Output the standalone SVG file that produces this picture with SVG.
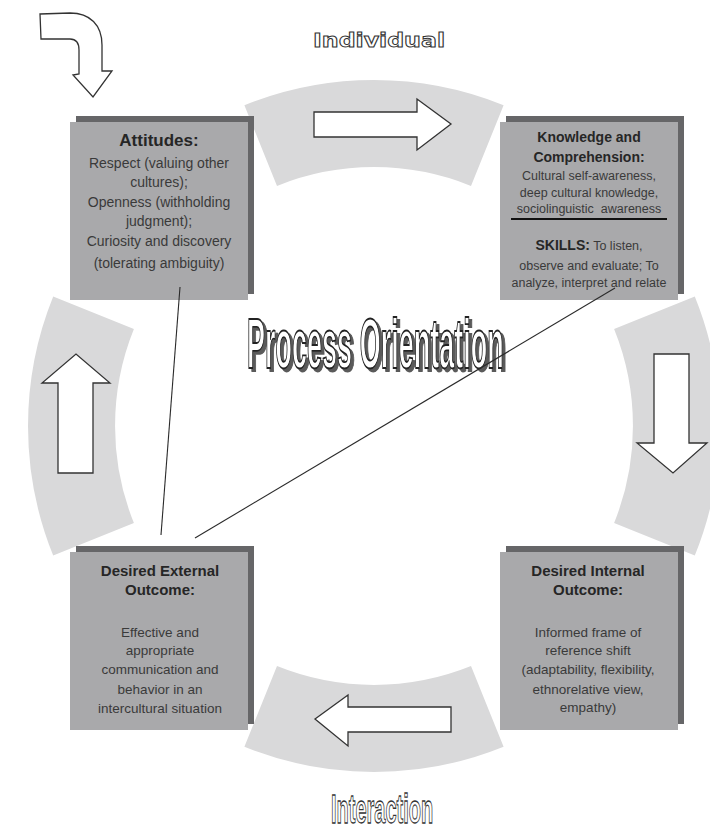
<svg xmlns="http://www.w3.org/2000/svg" width="710" height="832" viewBox="0 0 710 832">
<style>
.ring{fill:#d9d9da;stroke:none}
.arrow{fill:#ffffff;stroke:#333333;stroke-width:1.3;stroke-linejoin:miter}
.shadow{fill:#666668}
.box{fill:#a9a9ab}
.title{font-family:"Liberation Sans",Arial,sans-serif;font-weight:bold;fill:#262626;text-anchor:middle}
.body{font-family:"Liberation Sans",Arial,sans-serif;fill:#3a3a3a;text-anchor:middle}
.conn{stroke:#2a2a2a;stroke-width:1.1;fill:none}
.outline{fill:#ffffff;stroke:#333333;stroke-width:1;font-weight:bold}
</style>
<defs>
<filter id="ds" x="-5%" y="-20%" width="110%" height="140%">
<feOffset in="SourceAlpha" dx="7" dy="3" result="o"/>
<feFlood flood-color="#5a5a5a"/>
<feComposite in2="o" operator="in" result="s"/>
<feMerge><feMergeNode in="s"/><feMergeNode in="SourceGraphic"/></feMerge>
</filter>
</defs>
<rect width="710" height="832" fill="#ffffff"/>

<g id="ring">
<path class="ring" d="M244.4,105.2 A346,346 0 0 1 503.6,105.2 L471,185.9 A259,259 0 0 0 277,185.9 Z"/>
<path class="ring" d="M694.8,296.4 A346,346 0 0 1 694.8,555.6 L614.1,523 A259,259 0 0 0 614.1,329 Z"/>
<path class="ring" d="M277,666.1 A259,259 0 0 0 471,666.1 L503.6,746.8 A346,346 0 0 1 244.4,746.8 Z"/>
<path class="ring" d="M53.2,296.4 L133.9,329 A259,259 0 0 0 133.9,523 L53.2,555.6 A346,346 0 0 1 53.2,296.4 Z"/>
</g>

<g id="arrows">
<path class="arrow" d="M314,112 L417,112 L417,99 L451,124 L417,150 L417,137 L314,137 Z"/>
<path class="arrow" d="M654,354 L689,354 L689,443 L707,443 L673,473 L637,443 L654,443 Z"/>
<path class="arrow" d="M451,707 L348,707 L348,695 L315,719 L348,746 L348,732 L451,732 Z"/>
<path class="arrow" d="M58,473 L58,383 L42,383 L76,354 L110,383 L93,383 L93,473 Z"/>
<path class="arrow" d="M40,14 L70,13 C90,13 102,25 102,45 L102,71 L112,71 L93,97 L73,75 L79,74 L79,50 C79,43 76,39 70,39 L41,39 Z"/>
</g>

<g id="label-individual">
<text class="outline" x="313" y="47" font-family="'DejaVu Sans',sans-serif" font-size="20" textLength="132" lengthAdjust="spacingAndGlyphs">Individual</text>
</g>

<g id="label-interaction" transform="translate(331,823) scale(0.5,1)">
<text class="outline" x="0" y="0" font-family="'Liberation Sans',Arial,sans-serif" font-size="40" vector-effect="non-scaling-stroke">Interaction</text>
</g>

<g id="label-process" transform="translate(247,368) scale(0.386,1)">
<text x="0" y="0" font-family="'Liberation Sans',Arial,sans-serif" font-weight="bold" font-size="70" fill="#ffffff" stroke="#222222" stroke-width="1.4" vector-effect="non-scaling-stroke" filter="url(#ds)">Process Orientation</text>
</g>

<g id="attitudes">
<rect class="shadow" x="76" y="116" width="178" height="178"/>
<rect class="box" x="70" y="122" width="178" height="178"/>
<text class="title" x="159" y="146" font-size="17">Attitudes:</text>
<text class="body" x="159" y="168" font-size="14">Respect (valuing other</text>
<text class="body" x="159" y="187" font-size="14">cultures);</text>
<text class="body" x="159" y="207" font-size="14">Openness (withholding</text>
<text class="body" x="159" y="226" font-size="14">judgment);</text>
<text class="body" x="159" y="246" font-size="14">Curiosity and discovery</text>
<text class="body" x="159" y="268" font-size="14">(tolerating ambiguity)</text>
</g>

<g id="knowledge">
<rect class="shadow" x="506" y="116" width="178" height="178"/>
<rect class="box" x="500" y="122" width="178" height="178"/>
<text class="title" x="589" y="142" font-size="14">Knowledge and</text>
<text class="title" x="589" y="162" font-size="14">Comprehension:</text>
<text class="body" x="589" y="180" font-size="12.5">Cultural self-awareness,</text>
<text class="body" x="589" y="197" font-size="12.5">deep cultural knowledge,</text>
<text class="body" x="589" y="213" font-size="12.5" style="white-space:pre">sociolinguistic  awareness</text>
<line x1="511" y1="219" x2="667" y2="219" stroke="#111111" stroke-width="2"/>
<text class="body" x="589" y="250" font-size="12.5"><tspan font-weight="bold" font-size="14" fill="#262626">SKILLS:</tspan> To listen,</text>
<text class="body" x="589" y="270" font-size="12.5">observe and evaluate; To</text>
<text class="body" x="589" y="287" font-size="12.5">analyze, interpret and relate</text>
</g>

<g id="external">
<rect class="shadow" x="76" y="546" width="178" height="178"/>
<rect class="box" x="70" y="552" width="178" height="178"/>
<text class="title" x="160" y="576" font-size="15">Desired External</text>
<text class="title" x="160" y="595" font-size="15">Outcome:</text>
<text class="body" x="160" y="637" font-size="13.5">Effective and</text>
<text class="body" x="160" y="655" font-size="13.5">appropriate</text>
<text class="body" x="160" y="674" font-size="13.5">communication and</text>
<text class="body" x="160" y="694" font-size="13.5">behavior in an</text>
<text class="body" x="160" y="713" font-size="13.5">intercultural situation</text>
</g>

<g id="internal">
<rect class="shadow" x="506" y="546" width="178" height="178"/>
<rect class="box" x="500" y="552" width="178" height="178"/>
<text class="title" x="588" y="576" font-size="15">Desired Internal</text>
<text class="title" x="588" y="595" font-size="15">Outcome:</text>
<text class="body" x="588" y="637" font-size="13.5">Informed frame of</text>
<text class="body" x="588" y="655" font-size="13.5">reference shift</text>
<text class="body" x="588" y="674" font-size="13.5">(adaptability, flexibility,</text>
<text class="body" x="588" y="694" font-size="13.5">ethnorelative view,</text>
<text class="body" x="588" y="712" font-size="13.5">empathy)</text>
</g>

<g id="connectors">
<line class="conn" x1="180" y1="287" x2="161" y2="535"/>
<line class="conn" x1="195" y1="538" x2="615" y2="288"/>
</g>
</svg>
